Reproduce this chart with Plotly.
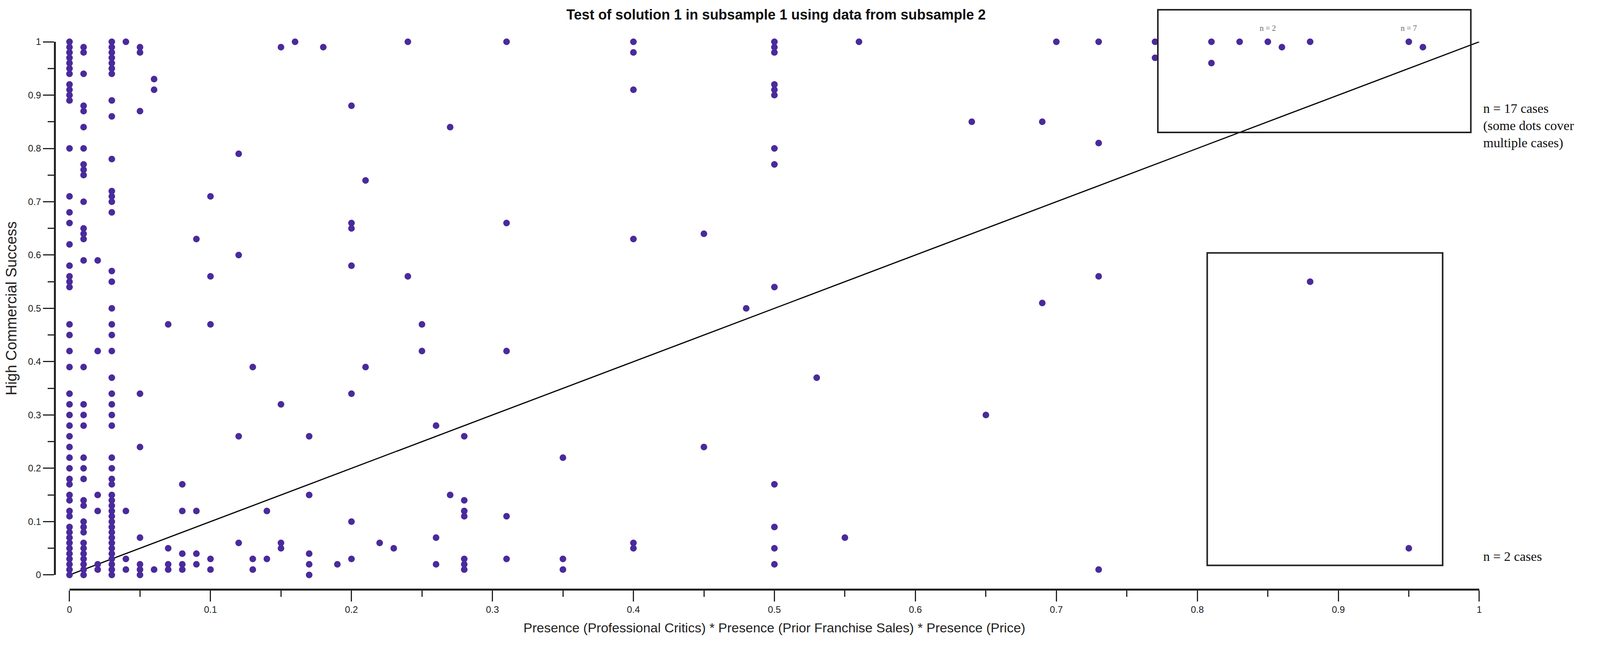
import plotly.graph_objects as go

# Data - columns of cases, keyed by x value
cols = {
    0.00: [1.0, 0.99, 0.98, 0.97, 0.96, 0.95, 0.94, 0.92, 0.91, 0.90, 0.89, 0.80, 0.71, 0.68, 0.66, 0.62,
           0.58, 0.56, 0.55, 0.54, 0.47, 0.45, 0.42, 0.39, 0.34, 0.32, 0.30, 0.28, 0.26, 0.24, 0.22, 0.20,
           0.18, 0.17, 0.15, 0.14, 0.12, 0.11, 0.09, 0.08, 0.07, 0.06, 0.05, 0.04, 0.03, 0.02, 0.01, 0.0],
    0.01: [0.99, 0.98, 0.94, 0.88, 0.87, 0.84, 0.80, 0.77, 0.76, 0.75, 0.70, 0.65, 0.64, 0.63, 0.59, 0.39,
           0.32, 0.30, 0.28, 0.22, 0.20, 0.18, 0.14, 0.13, 0.10, 0.09, 0.08, 0.06, 0.05, 0.04, 0.03, 0.02,
           0.01, 0.0],
    0.02: [0.59, 0.42, 0.15, 0.12, 0.02, 0.01],
    0.03: [1.0, 0.99, 0.98, 0.97, 0.96, 0.95, 0.94, 0.89, 0.86, 0.78, 0.72, 0.71, 0.70, 0.68, 0.57, 0.55,
           0.50, 0.47, 0.45, 0.42, 0.37, 0.34, 0.32, 0.30, 0.28, 0.22, 0.20, 0.18, 0.17, 0.15, 0.14, 0.13,
           0.12, 0.11, 0.10, 0.09, 0.08, 0.07, 0.06, 0.05, 0.04, 0.03, 0.02, 0.01, 0.0],
    0.04: [1.0, 0.12, 0.03, 0.01],
    0.05: [0.99, 0.98, 0.87, 0.34, 0.24, 0.07, 0.02, 0.01, 0.0],
    0.06: [0.93, 0.91, 0.01],
    0.07: [0.47, 0.05, 0.02, 0.01],
    0.08: [0.17, 0.12, 0.04, 0.02, 0.01],
    0.09: [0.63, 0.12, 0.04, 0.02],
    0.10: [0.71, 0.56, 0.47, 0.03, 0.01],
    0.12: [0.79, 0.60, 0.26, 0.06],
    0.13: [0.39, 0.03, 0.01],
    0.14: [0.12, 0.03],
    0.15: [0.99, 0.32, 0.06, 0.05],
    0.16: [1.0],
    0.17: [0.26, 0.15, 0.04, 0.02, 0.0],
    0.18: [0.99],
    0.19: [0.02],
    0.20: [0.88, 0.66, 0.65, 0.58, 0.34, 0.10, 0.03],
    0.21: [0.74, 0.39],
    0.22: [0.06],
    0.23: [0.05],
    0.24: [1.0, 0.56],
    0.25: [0.47, 0.42],
    0.26: [0.28, 0.07, 0.02],
    0.27: [0.84, 0.15],
    0.28: [0.26, 0.14, 0.12, 0.11, 0.03, 0.02, 0.01],
    0.31: [1.0, 0.66, 0.42, 0.11, 0.03],
    0.35: [0.22, 0.03, 0.01],
    0.40: [1.0, 0.98, 0.91, 0.63, 0.06, 0.05],
    0.45: [0.64, 0.24],
    0.48: [0.50],
    0.50: [1.0, 0.99, 0.98, 0.92, 0.91, 0.90, 0.80, 0.77, 0.54, 0.17, 0.09, 0.05, 0.02],
    0.53: [0.37],
    0.55: [0.07],
    0.56: [1.0],
    0.64: [0.85],
    0.65: [0.30],
    0.69: [0.85, 0.51],
    0.70: [1.0],
    0.73: [1.0, 0.81, 0.56, 0.01],
    0.77: [1.0, 0.97],
    0.81: [1.0, 0.96],
    0.83: [1.0],
    0.85: [1.0],
    0.86: [0.99],
    0.88: [1.0, 0.55],
    0.95: [1.0, 0.05],
    0.96: [0.99],
}
xs = [x for x, ys in cols.items() for _ in ys]
ys = [y for col in cols.values() for y in col]

ticks = [round(i * 0.1, 1) for i in range(11)]
tick_labels = ["0"] + [str(t) for t in ticks[1:-1]] + ["1"]

YDOM = [0.0264, 1]


def py(v):
    # data y -> paper y (so things above the axis range are not hidden)
    return YDOM[0] + v * (YDOM[1] - YDOM[0])


fig = go.Figure()
fig.add_trace(go.Scatter(x=[0, 1], y=[0, 1], mode="lines", line=dict(color="black", width=3),
                         hoverinfo="skip", cliponaxis=False))
fig.add_trace(go.Scatter(x=xs, y=ys, mode="markers", cliponaxis=False,
                         marker=dict(color="#4A2A9C", size=17)))

box = dict(type="rect", xref="x", yref="paper", line=dict(color="#222", width=4))
fig.add_shape(**box, x0=0.772, x1=0.994, y0=py(0.83), y1=py(1.06))
fig.add_shape(**box, x0=0.807, x1=0.974, y0=py(0.018), y1=py(0.604))

serif = dict(family="Liberation Serif", size=34, color="#111")
fig.add_annotation(x=1.0, y=py(0.89), xref="paper", yref="paper", xanchor="left", showarrow=False,
                   align="left", xshift=8,
                   text="n = 17 cases<br>(some dots cover<br>multiple cases)", font=serif)
fig.add_annotation(x=1.0, y=py(0.02), xref="paper", yref="paper", xanchor="left", showarrow=False,
                   xshift=8, text="n = 2 cases", font=serif)
small = dict(family="Liberation Serif", size=20, color="#666")
fig.add_annotation(x=0.85, y=py(1.035), xref="x", yref="paper", showarrow=False, text="n = 2", font=small)
fig.add_annotation(x=0.95, y=py(1.035), xref="x", yref="paper", showarrow=False, text="n = 7", font=small)

sans = "Liberation Sans Narrow, Liberation Sans"
axfont = dict(family=sans, size=24, color="#222")
common = dict(showgrid=False, zeroline=False, showline=True, linecolor="#222", linewidth=5,
              ticks="outside", ticklen=28, tickwidth=3, tickcolor="#222", tickfont=axfont,
              tickvals=ticks, ticktext=tick_labels, range=[0, 1],
              minor=dict(dtick=0.05, ticks="outside", ticklen=16, tickwidth=3, tickcolor="#222"))
fig.update_layout(
    width=4080, height=1640, showlegend=False,
    plot_bgcolor="white", paper_bgcolor="white",
    margin=dict(l=132, r=301, t=99, b=139),
    title=dict(text="<b>Test of solution 1 in subsample 1 using data from subsample 2</b>",
               x=0.485, xanchor="center", y=0.99, yanchor="top",
               font=dict(family=sans, size=36, color="#111")),
    xaxis=dict(**common, domain=[0.0104, 1], anchor="free", position=0,
               title=dict(text="Presence (Professional Critics) * Presence (Prior Franchise Sales) * Presence (Price)",
                          font=dict(family=sans, size=34, color="#222"), standoff=22)),
    yaxis=dict(**common, domain=YDOM, anchor="free", position=0,
               title=dict(text="High Commercial Success", font=dict(family=sans, size=38, color="#222"),
                          standoff=22)),
)
fig.write_html("out.html")
